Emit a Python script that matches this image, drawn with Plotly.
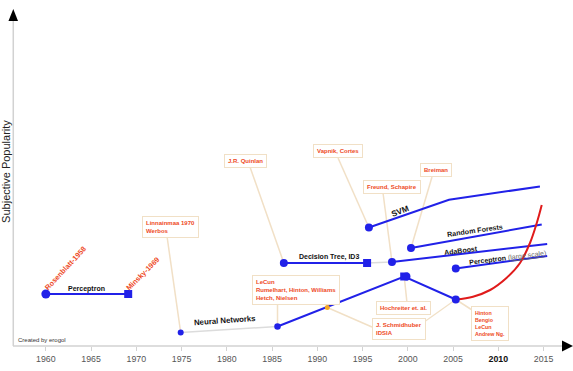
import plotly.graph_objects as go

# ---------------- data (years, subjective popularity) ----------------
perceptron_years = [1960.0, 1969.1]
perceptron_pop = [52, 52]

nn_early_years = [1974.9, 1985.6]
nn_early_pop = [13.5, 19.5]

nn_years = [1985.6, 1999.6, 2005.3]
nn_pop = [19.5, 69.5, 46.5]

lstm_year = [1991.1]
lstm_pop = [38.5]

deep_years = [2005.3, 2007.2, 2009.1, 2010.9, 2012.4, 2013.5, 2014.25, 2014.8]
deep_pop = [46.5, 49.3, 56, 68, 83, 103, 123, 141]

dt_years = [1986.3, 1995.5]
dt_pop = [83, 83]

dt_link_years = [1995.5, 1998.25]
dt_link_pop = [83, 84]

ada_years = [1998.25, 2015.4]
ada_pop = [84, 102]

rf_years = [2000.35, 2014.8]
rf_pop = [98, 121.5]

pls_years = [2005.3, 2015.4]
pls_pop = [77.5, 90]

svm_years = [1995.7, 2004.55, 2014.6]
svm_pop = [118.5, 146.3, 159.5]

tick_years = [1960, 1965, 1970, 1975, 1980, 1985, 1990, 1995, 2000, 2005, 2010, 2015]
tick_labels = ["1960", "1965", "1970", "1975", "1980", "1985", "1990", "1995",
               "2000", "2005", "2010", "2015"]

# ---------------- styles ----------------
BLUE = "#2121e8"
RED = "#e01b1b"
ORANGE_TXT = "#ee4a26"
BEIGE = "#f1e0c6"
FONT = "Liberation Sans, Arial, sans-serif"

fig = go.Figure()


def line(x, y, color, width=2, dash="solid", shape="linear"):
    fig.add_trace(go.Scatter(x=x, y=y, mode="lines",
                             line=dict(color=color, width=width, dash=dash, shape=shape),
                             hoverinfo="skip", showlegend=False))


def pts(x, y, symbol, size, color):
    fig.add_trace(go.Scatter(x=x, y=y, mode="markers",
                             marker=dict(symbol=symbol, size=size, color=color, line=dict(width=0)),
                             hoverinfo="skip", showlegend=False, cliponaxis=False))


# ---------------- annotation boxes (text, centre, connector start, target) ----------------
boxes = [
    ("Linnainmaa 1970<br>Werbos", (1973.72, 119), (1973.4, 109), (nn_early_years[0], nn_early_pop[0]), 6),
    ("J.R. Quinlan", (1982.06, 185.5), (1982.56, 179), (dt_years[0], dt_pop[0]), 6),
    ("Vapnik, Cortes", (1992.23, 195.5), (1992.29, 188), (svm_years[0], svm_pop[0]), 6),
    ("Freund, Schapire", (1998.2, 159.5), (1997.26, 153), (ada_years[0], ada_pop[0]), 6),
    ("Breiman", (2003.12, 176.5), (2002.67, 169), (rf_years[0], rf_pop[0]), 6),
    ("LeCun<br>Rumelhart, Hinton, Williams<br>Hetch, Nielsen", (1987.64, 56), (1985.6, 43),
     (nn_years[0], nn_pop[0]), 6),
    ("Hochreiter et. al.", (1999.52, 38.5), (1999.9, 44), (nn_years[1], nn_pop[1]), 6),
    ("J. Schmidhuber<br>IDSIA", (1998.97, 17), (1996.04, 19), (lstm_year[0], lstm_pop[0]), 6),
    ("Hinton<br>Bengio<br>LeCun<br>Andrew Ng.", (2009.09, 23), (2007.1, 36), (nn_years[2], nn_pop[2]), 5.3),
]

# connectors (drawn first, under everything)
for txt, c, s, t, fs in boxes:
    line([s[0], t[0]], [s[1], t[1]], BEIGE, width=1.5)
line([2001.96, nn_years[2]], [25, nn_pop[2]], BEIGE, width=1.2)

# faint grey links
line(nn_early_years, nn_early_pop, "#dcdcdc", width=1.5)
line(dt_link_years, dt_link_pop, "#dcdcdc", width=1.5)

# blue/red series
line(perceptron_years, perceptron_pop, BLUE)
line(nn_years, nn_pop, BLUE)
line(dt_years, dt_pop, BLUE)
line(ada_years, ada_pop, BLUE)
line(rf_years, rf_pop, BLUE)
line(pls_years, pls_pop, BLUE)
line(svm_years, svm_pop, BLUE, shape="linear")
line(deep_years, deep_pop, RED, shape="spline")

# markers
pts([perceptron_years[0]], [perceptron_pop[0]], "circle", 9, BLUE)
pts([perceptron_years[1]], [perceptron_pop[1]], "square", 8, BLUE)
pts([nn_early_years[0]], [nn_early_pop[0]], "circle", 6, BLUE)
pts([nn_years[0]], [nn_pop[0]], "circle", 6.5, BLUE)
pts(lstm_year, lstm_pop, "circle", 5, "#f5a623")
pts([nn_years[1]], [nn_pop[1]], "square", 8, BLUE)
pts([nn_years[1] + 0.25], [nn_pop[1]], "circle", 8, BLUE)
pts([nn_years[2]], [nn_pop[2]], "circle", 8, BLUE)
pts([dt_years[0]], [dt_pop[0]], "circle", 8, BLUE)
pts([dt_years[1]], [dt_pop[1]], "square", 8, BLUE)
pts([ada_years[0]], [ada_pop[0]], "circle", 8, BLUE)
pts([rf_years[0]], [rf_pop[0]], "circle", 8, BLUE)
pts([pls_years[0]], [pls_pop[0]], "circle", 8, BLUE)
pts([svm_years[0]], [svm_pop[0]], "circle", 8, BLUE)

annotations = []

# boxes
for txt, c, s, t, fs in boxes:
    annotations.append(dict(x=c[0], y=c[1], xref="x", yref="y", text="<b>" + txt + "</b>",
                            showarrow=False, align="left",
                            font=dict(family=FONT, size=fs, color=ORANGE_TXT),
                            bgcolor="white", bordercolor=BEIGE, borderwidth=1, borderpad=3))

# series labels (black)
labels = [
    ("<b>Perceptron</b>", 1964.51, 57, 0, 7),
    ("<b>Neural Networks</b>", 1979.8, 25.5, -4, 7.8),
    ("<b>Decision Tree, ID3</b>", 1991.24, 89, 0, 7),
    ("<b>SVM</b>", 1999.14, 135, -21, 8.3),
    ("<b>Random Forests</b>", 2007.43, 115, -8, 7.1),
    ("<b>AdaBoost</b>", 2005.88, 96, -7, 7),
    ("<b>Perceptron</b> <span style='color:#666'>(<span style='text-decoration:underline'>large scale</span>)</span>",
     2011.07, 88.5, -7, 7),
]
for txt, x, y, ang, fs in labels:
    annotations.append(dict(x=x, y=y, xref="x", yref="y", text=txt, showarrow=False,
                            textangle=ang, font=dict(family=FONT, size=fs, color="#111")))

# rotated red names
for txt, x, y, ang in [("Rosenblatt-1958", 1962.11, 78, -47), ("Minsky-1969", 1970.73, 72.5, -45)]:
    annotations.append(dict(x=x, y=y, xref="x", yref="y", text="<b>" + txt + "</b>", showarrow=False,
                            textangle=ang, font=dict(family=FONT, size=7.3, color=ORANGE_TXT)))

# axis title and credit
annotations.append(dict(x=-0.0127, y=0.529, xref="paper", yref="paper", text="Subjective Popularity",
                        showarrow=False, textangle=-90, xanchor="center", yanchor="middle",
                        font=dict(family=FONT, size=11, color="#222")))
annotations.append(dict(x=0.0054, y=0.018, xref="paper", yref="paper", text="Created by erogol",
                        showarrow=False, xanchor="left", yanchor="middle",
                        font=dict(family=FONT, size=6, color="#333")))

# axis lines with arrowheads (paper coordinates)
shapes = [
    dict(type="line", xref="paper", yref="paper", x0=0.0005, y0=0, x1=0.0005, y1=0.982,
         line=dict(color="#d2d2d2", width=1.5)),
    dict(type="line", xref="paper", yref="paper", x0=0, y0=0, x1=0.995, y1=0,
         line=dict(color="#d2d2d2", width=1.5)),
    dict(type="path", xref="paper", yref="paper",
         path="M -0.0082 0.9819 L 0.0091 0.9819 L 0.0005 1.0181 Z",
         fillcolor="black", line=dict(width=0)),
    dict(type="path", xref="paper", yref="paper",
         path="M 0.9946 0.0166 L 0.9946 -0.0166 L 1.0145 0 Z",
         fillcolor="black", line=dict(width=0)),
]

ticktext = ["<span style='color:#111'><b>%s</b></span>" % t if t == "2010" else t for t in tick_labels]

fig.update_layout(
    width=573, height=371,
    margin=dict(l=13, r=8, t=15, b=25),
    paper_bgcolor="white", plot_bgcolor="white",
    showlegend=False, hovermode=False,
    font=dict(family=FONT),
    annotations=annotations, shapes=shapes,
    xaxis=dict(range=[1956.37, 2017.37], showgrid=False, zeroline=False, showline=False,
               tickmode="array", tickvals=tick_years, ticktext=ticktext,
               ticks="outside", ticklen=4, tickcolor="#d2d2d2", tickwidth=1,
               tickfont=dict(family=FONT, size=8.8, color="#555"), fixedrange=True),
    yaxis=dict(range=[0, 331], showgrid=False, zeroline=False, showline=False,
               showticklabels=False, ticks="", fixedrange=True),
)

fig.write_html("out.html", config={"displayModeBar": False},
               post_script="document.body.style.margin='0px';")
